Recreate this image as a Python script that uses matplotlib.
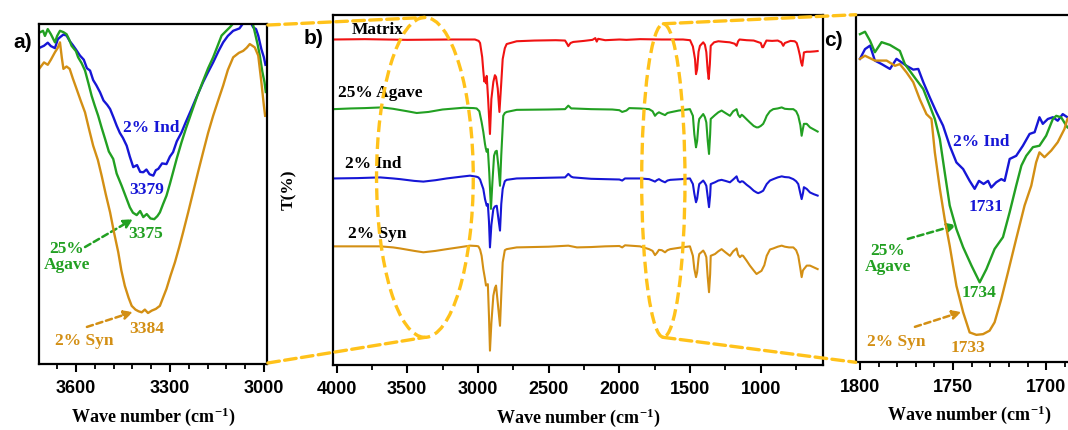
import matplotlib
matplotlib.use('Agg')
import matplotlib.pyplot as plt
from matplotlib.patches import Ellipse, ConnectionPatch, FancyArrowPatch
from matplotlib.ticker import MultipleLocator
from matplotlib.font_manager import FontProperties

plt.rcParams['font.family'] = ['Liberation Serif', 'DejaVu Serif']
plt.rcParams['mathtext.default'] = 'regular'

# ---- colours
RED = '#F01212'
GREEN = '#22A022'
BLUE = '#1616D6'
GOLD = '#D38F14'
YEL = '#FFC21A'

# ---- panel a) 3720-2990 cm-1, O-H region
a_ind_wn = [3716, 3702, 3690, 3680, 3667, 3658, 3651, 3640, 3630, 3620, 3610, 3600, 3587, 3575, 3565,
            3555, 3545, 3535, 3523, 3512, 3500, 3491, 3480, 3470, 3460, 3450, 3438, 3428, 3417, 3405,
            3395, 3385, 3375, 3365, 3353, 3345, 3337, 3325, 3311, 3300, 3290, 3278, 3263, 3250, 3231,
            3215, 3194, 3180, 3162, 3145, 3130, 3115, 3098, 3078, 3060, 3045, 3034, 3025, 3018, 3008,
            3000, 2995]
a_ind_t = [93.0, 93.6, 94.5, 93.5, 92.9, 95.5, 96.1, 96.9, 96.6, 95.0, 93.8, 92.5, 90.7, 89.5, 87.0,
           86.3, 83.5, 82.0, 79.9, 77.5, 76.2, 75.0, 72.5, 70.1, 68.0, 66.5, 64.2, 61.0, 57.9, 58.5,
           56.5, 56.4, 57.2, 55.8, 55.4, 57.0, 57.4, 59.0, 58.8, 61.0, 62.3, 65.5, 68.1, 71.0, 75.0,
           78.5, 82.9, 85.5, 88.7, 92.0, 94.6, 96.5, 98.0, 98.7, 101, 101, 99.0, 98.5, 96.6, 92.6,
           90.2, 88.0]
a_agave_wn = [3716, 3705, 3699, 3690, 3680, 3667, 3660, 3651, 3640, 3630, 3622, 3614, 3600, 3593, 3582,
              3571, 3560, 3550, 3540, 3529, 3518, 3507, 3495, 3481, 3470, 3454, 3440, 3428, 3418, 3406,
              3395, 3385, 3374, 3362, 3350, 3340, 3332, 3322, 3311, 3300, 3290, 3278, 3263, 3248, 3231,
              3212, 3194, 3178, 3162, 3148, 3135, 3120, 3109, 3090, 3050, 3035, 3029, 3020, 3013, 3005,
              2998, 2994]
a_agave_t = [97.5, 98.0, 96.5, 98.5, 97.0, 94.6, 96.5, 98.0, 97.6, 97.0, 95.5, 93.6, 92.0, 90.2, 88.5,
             86.3, 82.5, 78.9, 76.0, 73.0, 69.5, 66.2, 62.5, 60.3, 56.0, 52.4, 49.0, 46.1, 44.5, 43.8,
             45.0, 43.2, 44.1, 42.8, 42.6, 43.5, 44.6, 47.0, 49.5, 53.0, 56.4, 60.5, 65.2, 69.5, 74.0,
             79.0, 83.3, 87.0, 90.2, 93.5, 96.6, 98.0, 99.0, 101, 101, 100, 97.6, 94.0, 90.7, 86.0,
             82.9, 80.0]
a_syn_wn = [3716, 3702, 3690, 3680, 3667, 3658, 3651, 3645, 3640, 3630, 3620, 3610, 3598, 3585, 3571,
            3558, 3545, 3530, 3518, 3505, 3491, 3478, 3465, 3455, 3444, 3432, 3422, 3410, 3400, 3390,
            3380, 3370, 3358, 3345, 3332, 3322, 3311, 3298, 3284, 3270, 3258, 3242, 3226, 3210, 3194,
            3178, 3162, 3146, 3130, 3115, 3098, 3080, 3066, 3055, 3045, 3035, 3029, 3018, 3008, 3000,
            2996]
a_syn_t = [87.0, 88.7, 88.0, 89.5, 91.7, 93.0, 94.6, 90.0, 86.8, 87.5, 86.8, 84.0, 80.9, 77.5, 74.0,
           69.0, 64.2, 60.0, 55.4, 50.0, 44.6, 38.5, 32.9, 27.5, 23.0, 19.5, 17.1, 16.0, 15.5, 15.2,
           16.0, 15.0, 15.7, 16.2, 17.1, 19.5, 22.1, 26.0, 29.9, 34.5, 38.7, 44.5, 50.5, 56.5, 62.3,
           68.0, 73.0, 77.5, 81.9, 86.5, 90.2, 91.5, 92.1, 93.0, 94.1, 93.5, 93.1, 90.7, 82.9, 76.0,
           73.0]

# ---- panel b) full spectra 4000-600 cm-1 (stacked)
b_matrix_wn = [4020, 3800, 3500, 3200, 3021, 2995, 2985, 2970, 2962, 2955, 2950, 2943, 2938, 2928, 2915,
               2905, 2891, 2880, 2872, 2860, 2848, 2836, 2825, 2810, 2797, 2726, 2600, 2450, 2384, 2370,
               2361, 2345, 2326, 2250, 2190, 2170, 2160, 2150, 2100, 2000, 1950, 1854, 1700, 1550, 1500,
               1480, 1465, 1458, 1450, 1440, 1430, 1407, 1395, 1385, 1375, 1368, 1360, 1354, 1330, 1300,
               1250, 1220, 1185, 1171, 1160, 1150, 1100, 1050, 1000, 990, 983, 975, 960, 920, 880,
               855, 841, 830, 790, 760, 746, 735, 723, 715, 707, 700, 695, 675, 652, 620,
               598]
b_matrix_t = [93.0, 93.1, 92.9, 93.0, 93.0, 92.6, 92.0, 88.0, 84.0, 81.0, 82.0, 80.5, 82.6, 76.0, 66.0,
              76.0, 80.9, 82.8, 82.3, 79.0, 72.3, 80.0, 87.4, 90.5, 91.7, 92.5, 92.7, 92.8, 92.7, 91.8,
              91.1, 92.0, 92.3, 92.6, 92.9, 93.4, 92.4, 93.2, 92.8, 93.0, 92.9, 93.1, 93.0, 93.0, 92.8,
              91.0, 87.4, 83.1, 84.5, 89.5, 91.2, 92.2, 91.5, 89.4, 84.0, 81.7, 86.0, 91.2, 92.2, 92.5,
              92.3, 92.2, 91.8, 91.2, 92.5, 93.0, 92.8, 92.7, 92.0, 90.8, 90.8, 91.5, 92.7, 92.6, 92.7,
              92.2, 91.2, 92.0, 92.6, 92.5, 92.0, 90.5, 88.4, 86.5, 85.5, 87.5, 89.3, 89.5, 89.5, 89.6,
              89.7]
b_agave_wn = [4020, 3900, 3800, 3680, 3600, 3500, 3433, 3350, 3250, 3103, 3030, 3009, 2990, 2974, 2962,
              2950, 2945, 2938, 2930, 2920, 2908, 2898, 2886, 2876, 2867, 2856, 2844, 2835, 2821, 2810,
              2797, 2726, 2500, 2384, 2361, 2340, 2326, 2200, 2050, 2000, 1980, 1950, 1930, 1854, 1790,
              1765, 1748, 1735, 1720, 1700, 1677, 1660, 1640, 1580, 1520, 1501, 1480, 1470, 1458, 1450,
              1440, 1435, 1407, 1395, 1385, 1375, 1366, 1358, 1354, 1324, 1300, 1277, 1250, 1218, 1195,
              1171, 1160, 1147, 1135, 1125, 1100, 1077, 1050, 1030, 1018, 1000, 983, 970, 958, 935,
              912, 880, 852, 830, 800, 770, 750, 735, 720, 711, 702, 695, 675, 652, 625,
              598]
b_agave_t = [73.1, 73.3, 73.4, 73.6, 73.2, 72.5, 72.0, 72.3, 73.0, 73.5, 73.4, 73.3, 72.5, 69.4, 66.6,
             63.1, 62.0, 60.9, 61.7, 55.0, 44.6, 52.0, 59.8, 61.0, 61.2, 57.0, 51.2, 60.0, 71.2, 72.0,
             72.3, 72.9, 73.0, 73.1, 74.1, 73.3, 73.3, 73.1, 73.0, 72.8, 72.3, 72.7, 73.4, 73.3, 73.1,
             72.5, 71.2, 71.8, 72.2, 71.8, 71.4, 72.0, 72.2, 72.7, 73.0, 73.1, 71.2, 66.0, 62.2, 64.0,
             69.0, 70.3, 71.7, 70.8, 69.3, 64.0, 60.3, 66.0, 70.3, 71.4, 72.2, 72.7, 72.0, 71.2, 72.5,
             73.1, 71.5, 70.8, 71.5, 71.2, 70.2, 69.3, 68.3, 67.9, 67.9, 68.3, 68.9, 70.0, 71.2, 72.5,
             73.1, 73.3, 73.6, 73.2, 73.1, 73.1, 72.5, 71.2, 68.5, 65.5, 67.5, 68.9, 68.9, 67.9, 67.3,
             66.7]
b_ind_wn = [4020, 3850, 3692, 3600, 3550, 3450, 3386, 3300, 3221, 3120, 3056, 3010, 2997, 2985, 2975,
            2962, 2950, 2938, 2930, 2922, 2915, 2905, 2891, 2880, 2867, 2856, 2844, 2835, 2825, 2810,
            2797, 2726, 2500, 2384, 2361, 2340, 2326, 2200, 2100, 2000, 1980, 1960, 1854, 1790, 1765,
            1748, 1735, 1720, 1700, 1677, 1660, 1640, 1560, 1501, 1480, 1470, 1458, 1450, 1440, 1435,
            1407, 1395, 1385, 1375, 1366, 1358, 1354, 1324, 1300, 1277, 1250, 1218, 1195, 1171, 1160,
            1147, 1135, 1125, 1100, 1077, 1050, 1030, 1018, 1000, 983, 970, 958, 935, 912, 880,
            852, 830, 800, 770, 750, 735, 720, 711, 702, 695, 675, 652, 625, 598]
b_ind_t = [53.3, 53.4, 53.6, 53.3, 53.1, 52.6, 52.4, 52.8, 53.3, 53.8, 54.1, 53.8, 53.6, 53.0, 51.8,
           50.3, 47.4, 45.5, 46.0, 41.0, 33.6, 40.0, 44.6, 45.3, 45.5, 42.0, 38.4, 46.0, 50.3, 52.5,
           52.9, 53.3, 53.5, 53.6, 54.6, 53.8, 53.6, 53.2, 53.1, 53.0, 52.7, 53.3, 53.3, 53.1, 52.7,
           52.4, 52.8, 53.1, 52.6, 52.2, 52.7, 52.9, 53.1, 53.3, 51.7, 49.0, 46.5, 47.5, 50.5, 51.7,
           52.7, 52.0, 51.2, 48.0, 45.1, 48.5, 51.7, 52.2, 52.7, 52.9, 52.6, 52.2, 53.0, 53.9, 52.6,
           52.2, 52.5, 52.4, 51.5, 50.8, 49.8, 49.3, 49.1, 49.4, 49.8, 50.8, 51.7, 52.7, 53.1, 53.6,
           53.9, 53.7, 53.6, 53.1, 52.5, 51.7, 49.0, 47.4, 49.0, 50.8, 50.3, 49.3, 48.8, 48.4]
b_syn_wn = [4020, 3850, 3692, 3600, 3550, 3450, 3386, 3300, 3221, 3120, 3056, 3010, 2997, 2985, 2974,
            2962, 2950, 2943, 2930, 2922, 2915, 2905, 2891, 2880, 2872, 2858, 2844, 2835, 2825, 2810,
            2797, 2726, 2500, 2361, 2300, 2200, 2100, 2000, 1980, 1960, 1854, 1790, 1765, 1748, 1735,
            1720, 1700, 1677, 1660, 1640, 1560, 1501, 1480, 1470, 1458, 1450, 1440, 1435, 1407, 1395,
            1385, 1375, 1366, 1358, 1354, 1324, 1300, 1277, 1250, 1218, 1195, 1171, 1160, 1147, 1135,
            1125, 1100, 1077, 1050, 1030, 1015, 995, 975, 958, 935, 912, 880, 852, 830, 800,
            770, 750, 735, 720, 711, 702, 695, 675, 652, 625, 598]
b_syn_t = [33.9, 33.9, 33.9, 33.6, 33.3, 32.6, 32.2, 32.6, 33.1, 33.7, 34.1, 34.0, 33.9, 33.0, 31.2,
           27.4, 24.6, 22.7, 23.1, 14.0, 4.1, 12.0, 19.8, 22.0, 22.7, 17.0, 11.2, 20.0, 29.3, 32.8,
           33.1, 33.6, 33.8, 34.1, 33.6, 33.7, 33.9, 34.0, 33.6, 34.2, 33.9, 33.1, 32.6, 31.4, 32.0,
           32.9, 32.8, 32.2, 32.8, 33.1, 33.6, 33.9, 31.2, 27.5, 25.1, 26.5, 30.5, 31.7, 32.7, 31.9,
           30.8, 25.0, 20.8, 26.0, 31.2, 31.7, 32.5, 33.1, 32.2, 31.2, 32.5, 33.3, 31.5, 30.8, 31.3,
           31.2, 29.8, 28.4, 27.0, 26.0, 26.4, 26.9, 28.5, 31.2, 33.0, 33.3, 33.8, 34.1, 33.8, 33.6,
           33.6, 32.8, 31.2, 27.5, 25.1, 27.0, 27.4, 28.4, 28.4, 27.9, 27.4]

# ---- panel c) carbonyl region 1800-1680 cm-1
c_agave_wn = [1800, 1797.3, 1794.6, 1792, 1788.4, 1783.9, 1778.6, 1775.9, 1771.4, 1766, 1762.5, 1759.8,
              1757.1, 1754.5, 1751.8, 1748.2, 1744.6, 1740.1, 1735.7, 1732.1, 1727.7, 1723.2, 1719.6,
              1716.1, 1713.3, 1710.7, 1707.1, 1703.6, 1700, 1696.4, 1694.6, 1692, 1688.6, 1684]
c_agave_t = [94.4, 95.1, 92.5, 89.2, 92.1, 91.3, 89.6, 85.8, 82.5, 78.6, 73.8, 70.0,
             64.2, 54.7, 45.1, 38.3, 33.1, 27.8, 23.0, 26.8, 32.6, 36.0, 43.2,
             50.8, 56.6, 59.4, 61.9, 62.3, 65.2, 70.0, 70.9, 70.5, 67.6, 66.0]
c_ind_wn = [1800, 1797.3, 1794.6, 1792, 1788.4, 1783.9, 1780.4, 1775, 1771.4, 1768.7, 1766, 1762.5,
            1758.9, 1755.4, 1751.8, 1748.2, 1744.6, 1741.1, 1738.4, 1736.1, 1733.6, 1731.2, 1729.5,
            1726.8, 1724.1, 1722.3, 1719.6, 1716.1, 1712.5, 1708.9, 1706.2, 1703.6, 1701.8, 1699.1,
            1696.4, 1693.8, 1691.1, 1688.6, 1684]
c_ind_t = [87.3, 90.1, 91.1, 86.8, 85.8, 84.4, 87.3, 85.3, 84.2, 84.4, 80.6, 76.2,
           71.9, 68.1, 62.3, 57.5, 55.6, 52.2, 49.9, 52.2, 51.3, 52.2, 50.3,
           51.8, 52.7, 52.2, 58.5, 59.4, 62.3, 65.7, 66.2, 70.5, 68.6, 70.0,
           70.5, 69.5, 71.4, 70.5, 70.0]
c_syn_wn = [1800, 1797.3, 1792, 1785.7, 1781.2, 1778.6, 1775, 1771.4, 1767.9, 1764.3, 1761.6, 1759.8,
            1757.1, 1754.5, 1751.8, 1748.2, 1744.6, 1741.1, 1737.5, 1733.9, 1730.4, 1727.7, 1724.1,
            1720.5, 1716.1, 1711.6, 1708, 1705.4, 1703.6, 1700.9, 1697.3, 1693.8, 1690.2, 1688.6, 1684]
c_syn_t = [87.3, 88.2, 86.8, 86.8, 85.3, 85.8, 83.4, 80.6, 75.7, 71.4, 70.0, 60.4,
           49.9, 41.2, 33.5, 22.0, 14.4, 8.6, 7.9, 8.1, 9.1, 11.5, 18.2,
           25.9, 35.5, 45.1, 50.8, 57.5, 60.4, 59.0, 60.9, 63.3, 67.1, 70.0, 72.0]

W, H = 1068, 431
fig = plt.figure(figsize=(W / 100, H / 100), dpi=100)


def box(l, t, r, b):
    # pixel box -> figure fraction
    return [l / W, 1 - b / H, (r - l) / W, (b - t) / H]


ax_a = fig.add_axes(box(39.3, 25, 266.7, 365))
ax_b = fig.add_axes(box(332.7, 16, 823, 366))
ax_c = fig.add_axes(box(855.7, 15.7, 1083.4, 363.3))

tickfont = FontProperties(family='Liberation Sans', weight='bold', size=13)
for ax in (ax_a, ax_b, ax_c):
    ax.set_ylim(0, 100)
    ax.set_yticks([])
    for sp in ax.spines.values():
        sp.set_linewidth(1.6)
    ax.tick_params(axis='x', which='major', direction='out', length=6, width=1.5, pad=5)
    ax.tick_params(axis='x', which='minor', direction='out', length=3.5, width=1.3)
    ax.set_xlabel('Wave number (cm$^{-1}$)', fontsize=13, fontweight='bold', labelpad=6)

# a)
ax_a.plot(a_ind_wn, a_ind_t, color=BLUE, lw=1.7)
ax_a.plot(a_agave_wn, a_agave_t, color=GREEN, lw=1.7)
ax_a.plot(a_syn_wn, a_syn_t, color=GOLD, lw=1.7)
ax_a.set_xlim(3717, 2991)
ax_a.set_xticks([3600, 3300, 3000])
ax_a.xaxis.set_minor_locator(MultipleLocator(60))

# b)
ax_b.plot(b_matrix_wn, b_matrix_t, color=RED, lw=1.5)
ax_b.plot(b_agave_wn, b_agave_t, color=GREEN, lw=1.5)
ax_b.plot(b_ind_wn, b_ind_t, color=BLUE, lw=1.5)
ax_b.plot(b_syn_wn, b_syn_t, color=GOLD, lw=1.5)
ax_b.set_xlim(4027, 560)
ax_b.set_xticks([4000, 3500, 3000, 2500, 2000, 1500, 1000])
ax_b.xaxis.set_minor_locator(MultipleLocator(250))

# c)
ax_c.plot(c_ind_wn, c_ind_t, color=BLUE, lw=1.7)
ax_c.plot(c_agave_wn, c_agave_t, color=GREEN, lw=1.7)
ax_c.plot(c_syn_wn, c_syn_t, color=GOLD, lw=1.7)
ax_c.set_xlim(1802.3, 1680)
ax_c.set_xticks([1800, 1750, 1700])
ax_c.xaxis.set_minor_locator(MultipleLocator(10))

for ax in (ax_a, ax_b, ax_c):
    for lab in ax.get_xticklabels():
        lab.set_fontproperties(tickfont)

txt = dict(fontsize=12.5, fontweight='bold')

# annotations a)
ax_a.text(3450, 69.7, '2% Ind', color=BLUE, ha='left', va='center', **txt)
ax_a.text(3373, 51.5, '3379', color=BLUE, ha='center', va='center', **txt)
ax_a.text(3377, 38.5, '3375', color=GREEN, ha='center', va='center', **txt)
ax_a.text(3629, 31.8, '25%\nAgave', color=GREEN, ha='center', va='center', linespacing=0.95, **txt)
ax_a.text(3373, 10.6, '3384', color=GOLD, ha='center', va='center', **txt)
ax_a.text(3574, 7.1, '2% Syn', color=GOLD, ha='center', va='center', **txt)

# annotations b)
ax_b.text(3707, 96.0, 'Matrix', color='black', ha='center', va='center', **txt)
ax_b.text(3989, 78.1, '25% Agave', color='black', ha='left', va='center', **txt)
ax_b.text(3940, 57.7, '2% Ind', color='black', ha='left', va='center', **txt)
ax_b.text(3919, 37.7, '2% Syn', color='black', ha='left', va='center', **txt)

# annotations c)
ax_c.text(1750.2, 63.7, '2% Ind', color=BLUE, ha='left', va='center', **txt)
ax_c.text(1732.5, 45.0, '1731', color=BLUE, ha='center', va='center', **txt)
ax_c.text(1785, 30.0, '25%\nAgave', color=GREEN, ha='center', va='center', linespacing=0.95, **txt)
ax_c.text(1736.3, 20.2, '1734', color=GREEN, ha='center', va='center', **txt)
ax_c.text(1780.4, 6.1, '2% Syn', color=GOLD, ha='center', va='center', **txt)
ax_c.text(1742.1, 4.4, '1733', color=GOLD, ha='center', va='center', **txt)


def dash_arrow(ax, p0, p1, color):
    ar = FancyArrowPatch(p0, p1, arrowstyle='-|>', mutation_scale=13, color=color,
                         lw=1.8, linestyle=(0, (2.5, 1.5)), shrinkA=0, shrinkB=0)
    ax.add_patch(ar)


dash_arrow(ax_a, (3571, 34.4), (3418, 42.6), GREEN)
dash_arrow(ax_a, (3565, 10.9), (3418, 15.3), GOLD)
dash_arrow(ax_c, (1774.3, 35.5), (1748.2, 39.5), GREEN)
dash_arrow(ax_c, (1770.5, 10.2), (1745.5, 14.5), GOLD)

# zoom ellipses and connecting lines
dash = dict(color=YEL, lw=2.4, linestyle=(0, (3.5, 1.6)))
for cx, cy, w, h in [(3375, 53.6, 684, 91.4), (1689, 52.7, 306, 89.5)]:
    ax_b.add_patch(Ellipse((cx, cy), w, h, fill=False, edgecolor=YEL, lw=2.4,
                           linestyle=(0, (3.5, 1.6)), clip_on=False, zorder=5))

for xyA, axA, xyB, axB in [((1.005, 0.997), ax_a.transAxes, (3375, 99.3), ax_b.transData),
                           ((1.005, 0.003), ax_a.transAxes, (3375, 7.9), ax_b.transData),
                           ((1689, 97.5), ax_b.transData, (0, 1.0), ax_c.transAxes),
                           ((1689, 7.9), ax_b.transData, (0, 0.0), ax_c.transAxes)]:
    con = ConnectionPatch(xyA=xyA, coordsA=axA, xyB=xyB, coordsB=axB, zorder=6, **dash)
    fig.add_artist(con)

# panel letters and y label
lab = dict(family='Liberation Sans', weight='bold', size=15)
fig.text(23 / W, 1 - 43 / H, 'a)', ha='center', va='center', **lab)
fig.text(314 / W, 1 - 39 / H, 'b)', ha='center', va='center', **lab)
fig.text(833 / W, 1 - 41 / H, 'c)', ha='center', va='center', **lab)
fig.text(289 / W, 1 - 190 / H, 'T(%)', rotation=90, ha='center', va='center',
         fontsize=12.5, fontweight='bold')

fig.savefig('out.png', dpi=100)
